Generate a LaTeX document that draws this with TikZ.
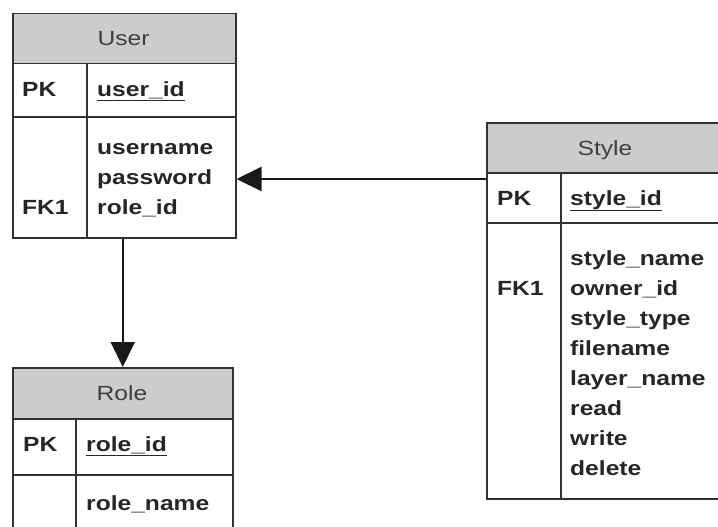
\documentclass[tikz,border=0pt]{standalone}
\usepackage{fontspec}
\setmainfont[FakeStretch=1.2]{Liberation Sans}
\usetikzlibrary{arrows.meta, positioning}

\begin{document}
\begin{tikzpicture}[x=1pt, y=-1pt,
  box/.style={draw=black!80, line width=1.5pt, rectangle, inner sep=0pt, anchor=north west},
  head/.style={box, fill=gray!40},
  rule/.style={draw=black!80, line width=1.5pt},
  title/.style={font=\fontsize{20.5}{24}\selectfont, text=black!75, anchor=base, inner sep=0pt},
  field/.style={font=\bfseries\fontsize{20.5}{24}\selectfont, text=black!85, anchor=base west, inner sep=0pt},
  link/.style={draw=black!90, line width=2pt, -{Triangle[length=25pt, width=24pt]}}]
\useasboundingbox (0,0) rectangle (718,527);
\clip (0,0) rectangle (718,527);
% User entity
\node[head, minimum width=223pt, minimum height=50pt] (userhead) at (12,13) {};
\node[box, minimum width=223pt, minimum height=53pt] (userpk) at (12,63) {};
\node[box, minimum width=223pt, minimum height=121pt] (userbody) at (12,116) {};
\draw[rule] (87,63) -- (87,237);
\node[title] (usertitle) at (123.5,46) {User};
\node[field] (userpkkey) at (22,96) {PK};
\node[field] (userpkname) at (97,96) {\underline{user\_id}};
\node[field] (userfk) at (22,214) {FK1};
\foreach \f [count=\i from 0] in {username, password, role\_id}
  \node[field] (user-\i) at (97,154+30*\i) {\f};
% Role entity (runs off the bottom)
\node[head, minimum width=220pt, minimum height=51pt] (rolehead) at (12,367) {};
\node[box, minimum width=220pt, minimum height=56pt] (rolepk) at (12,418) {};
\node[box, minimum width=220pt, minimum height=80pt] (rolebody) at (12,474) {};
\draw[rule] (76,418) -- (76,560);
\node[title] (roletitle) at (122,400) {Role};
\node[field] (rolepkkey) at (23,451) {PK};
\node[field] (rolepkname) at (86,451) {\underline{role\_id}};
\node[field] (role-0) at (86,510) {role\_name};
% Style entity (runs off the right side)
\node[head, minimum width=238pt, minimum height=50pt] (stylehead) at (486,122) {};
\node[box, minimum width=238pt, minimum height=50pt] (stylepk) at (486,172) {};
\node[box, minimum width=238pt, minimum height=276pt] (stylebody) at (486,222) {};
\draw[rule] (561,172) -- (561,498);
\node[title] (styletitle) at (605,155) {Style};
\node[field] (stylepkkey) at (497,205) {PK};
\node[field] (stylepkname) at (570,205) {\underline{style\_id}};
\node[field] (stylefkkey) at (497,295) {FK1};
\foreach \f [count=\i from 0] in {style\_name, owner\_id, style\_type, filename, layer\_name, read, write, delete}
  \node[field] (style-\i) at (570,265+30*\i) {\f};
% Relations
\draw[link] (userbody.south -| rolehead.north) -- (rolehead.north);
\coordinate (stylefk) at (486,179);
\draw[link] (stylefk) -- (stylefk -| userbody.east);
\end{tikzpicture}
\end{document}
